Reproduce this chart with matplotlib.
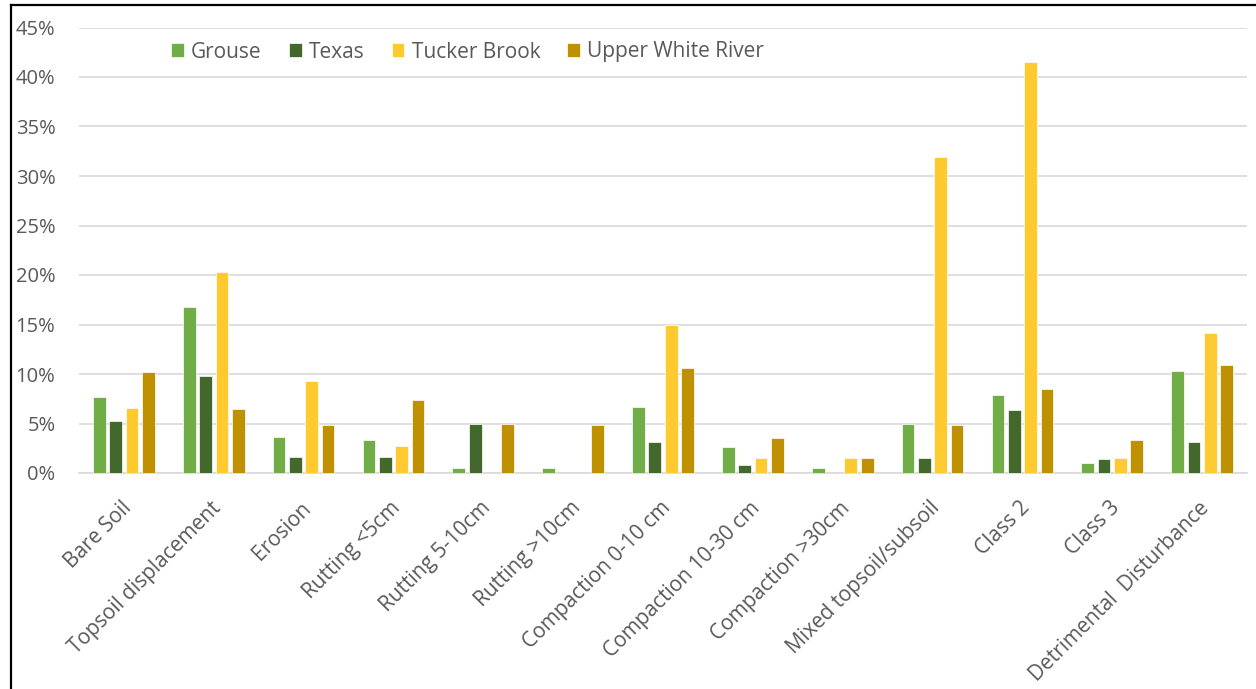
import numpy as np
import matplotlib
matplotlib.use("Agg")
import matplotlib.pyplot as plt
from matplotlib.transforms import ScaledTranslation
from matplotlib.lines import Line2D
from matplotlib.ticker import PercentFormatter

categories = ["Bare Soil", "Topsoil displacement", "Erosion", "Rutting <5cm",
              "Rutting 5-10cm", "Rutting >10cm", "Compaction 0-10 cm",
              "Compaction 10-30 cm", "Compaction >30cm", "Mixed topsoil/subsoil",
              "Class 2", "Class 3", "Detrimental  Disturbance"]
series_names = ["Grouse", "Texas", "Tucker Brook", "Upper White River"]
grouse = [7.7, 16.8, 3.6, 3.3, 0.5, 0.5, 6.7, 2.6, 0.5, 5.0, 7.9, 1.0, 10.3]
texas = [5.3, 9.8, 1.6, 1.6, 5.0, np.nan, 3.1, 0.8, np.nan, 1.5, 6.4, 1.4, 3.1]
tucker = [6.6, 20.3, 9.3, 2.7, np.nan, np.nan, 15.0, 1.5, 1.5, 31.9, 41.5, 1.5, 14.1]
upper_white = [10.2, 6.5, 4.8, 7.4, 5.0, 4.8, 10.6, 3.5, 1.5, 4.8, 8.5, 3.3, 10.9]
colors = ["#70AD47", "#43682B", "#FFCA30", "#BF9000"]

plt.rcParams['font.family'] = ['Open Sans', 'DejaVu Sans']
txt = "#595959"

W, H = 1256, 689
fig = plt.figure(figsize=(W / 100, H / 100), dpi=100)
ax = fig.add_axes([79 / W, 1 - 473 / H, (1247 - 79) / W, (473 - 27.5) / H])

x = np.arange(len(categories))
slot = 0.1817
bw = 0.1416
for i, (name, vals) in enumerate(zip(series_names, [grouse, texas, tucker, upper_white])):
    ax.bar(x + (i - 1.5) * slot, np.array(vals, dtype=float) / 100, width=bw,
           color=colors[i], edgecolor="white", linewidth=0.5, label=name, zorder=3)

ax.set_xlim(-0.5, 12.5)
ax.set_ylim(0, 0.45)
ax.set_yticks(np.arange(0, 0.451, 0.05))
ax.yaxis.set_major_formatter(PercentFormatter(1.0, decimals=0))
ax.grid(axis="y", color="#D9D9D9", linewidth=1.2, zorder=0)
ax.set_axisbelow(True)
for s in ["top", "right", "left"]:
    ax.spines[s].set_visible(False)
ax.spines["bottom"].set_color("#D9D9D9")
ax.spines["bottom"].set_linewidth(1.2)

ax.tick_params(axis="y", length=0, pad=17, labelsize=14.5, labelcolor=txt)
ax.tick_params(axis="x", length=0, pad=23, labelsize=15, labelcolor=txt)
ax.set_xticks(x)
ax.set_xticklabels(categories, rotation=45, ha="right", va="center",
                   rotation_mode="anchor")
off = ScaledTranslation(4 / 100, 0, fig.dpi_scale_trans)
for lab in ax.get_xticklabels():
    lab.set_transform(lab.get_transform() + off)

leg = ax.legend(loc="center left", bbox_to_anchor=(171 / W, 1 - 52 / H),
                bbox_transform=fig.transFigure, ncol=4, frameon=False,
                fontsize=15, handlelength=0.62, handleheight=0.62,
                handletextpad=0.34, columnspacing=1.3, borderpad=0,
                borderaxespad=0)
for t in leg.get_texts():
    t.set_color(txt)

fig.add_artist(Line2D([10.5 / W, 10.5 / W], [0, 1 - 5 / H], color="black",
                      linewidth=1.6, transform=fig.transFigure))
fig.add_artist(Line2D([10.5 / W, 1], [1 - 5 / H, 1 - 5 / H], color="black",
                      linewidth=1.6, transform=fig.transFigure))

fig.savefig("out.png", dpi=100)
